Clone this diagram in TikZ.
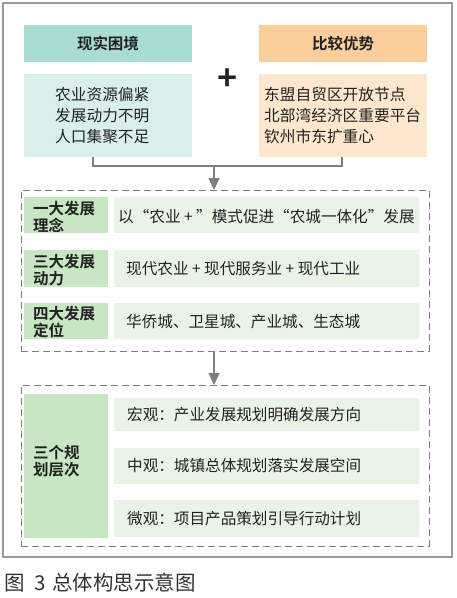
\documentclass[tikz,border=0pt]{standalone}
\usepackage{fontspec}
\setmainfont{Noto Sans CJK SC}[BoldFont={Noto Sans CJK SC Bold}]
\usetikzlibrary{arrows.meta}
\definecolor{frame}{HTML}{9A9A9A}
\definecolor{linegray}{HTML}{7F7F7F}
\definecolor{tealH}{HTML}{A9DCD3}
\definecolor{tealB}{HTML}{D9EFEC}
\definecolor{orgH}{HTML}{FBCF9C}
\definecolor{orgB}{HTML}{FDE7CD}
\definecolor{grnL}{HTML}{C8E6C4}
\definecolor{grnR}{HTML}{EAF4E6}
\definecolor{txt}{HTML}{222222}
\tikzset{
  box/.style={draw=none, inner sep=0pt, outer sep=0pt, rectangle},
  headtxt/.style={font=\fontsize{15.5}{18}\selectfont\bfseries, text=txt, inner sep=0pt},
  bodytxt/.style={font=\fontsize{15.7}{21}\selectfont, text=txt, inner sep=0pt, align=left},
  labtxt/.style={font=\fontsize{15.5}{17}\selectfont\bfseries, text=txt, inner sep=0pt, align=left},
  rowtxt/.style={font=\fontsize{15.6}{18}\selectfont, text=txt, inner sep=0pt, anchor=west},
  dbox/.style={draw=linegray, line width=1pt, dash pattern=on 7pt off 4pt},
  conn/.style={draw=linegray, line width=1.3pt},
  arr/.style={conn, -{Triangle[width=11pt,length=12pt]}}
}
\begin{document}
\begin{tikzpicture}[x=1pt,y=-1pt]
\useasboundingbox (0,0) rectangle (456,598);
% outer frame
\draw[draw=frame, line width=1.6pt] (3,3) rectangle (452,557);
% top boxes
\node[box, fill=tealH, minimum width=168pt, minimum height=37pt] (h1) at (108,43.5) {};
\node[headtxt] (h1t) at (h1.center) {现实困境};
\node[box, fill=tealB, minimum width=168pt, minimum height=83pt] (b1) at (108,115.5) {};
\node[bodytxt, anchor=west] (b1t) at (55,116) {农业资源偏紧\\发展动力不明\\人口集聚不足};
\node[box, fill=orgH, minimum width=168pt, minimum height=37pt] (h2) at (343,43.5) {};
\node[headtxt] (h2t) at (h2.center) {比较优势};
\node[box, fill=orgB, minimum width=168pt, minimum height=83pt] (b2) at (343,115.5) {};
\node[bodytxt, anchor=west] (b2t) at (264,116) {东盟自贸区开放节点\\北部湾经济区重要平台\\钦州市东扩重心};
% plus
\node[font=\fontsize{34}{34}\selectfont\bfseries, text=txt, inner sep=0pt] (plus) at (228,80) {+};
% bracket connector
\coordinate (c1) at (93,157);
\coordinate (c2) at (342,157);
\coordinate (m1) at (214,166);
\coordinate (a1) at (214,190);
\draw[conn] (c1) -- (93,166) -- (342,166) -- (c2);
\draw[arr] (m1) -- (a1);
% dashed box 1
\node[box, dbox, minimum width=408pt, minimum height=161pt] (d1) at (225,270.5) {};
% rows
\node[box, fill=grnL, minimum width=84pt, minimum height=36pt] (l1) at (66,215) {};
\node[labtxt, anchor=west] (l1t) at (33,216.5) {一大发展\\理念};
\node[box, fill=grnR, minimum width=305pt, minimum height=36pt] (r1) at (266.5,215) {};
\node[rowtxt] (r1t) at (118,216.5) {以“农业 + ”模式促进“农城一体化”发展};
\node[box, fill=grnL, minimum width=84pt, minimum height=37pt] (l2) at (66,268.5) {};
\node[labtxt, anchor=west] (l2t) at (33,270) {三大发展\\动力};
\node[box, fill=grnR, minimum width=305pt, minimum height=37pt] (r2) at (266.5,268.5) {};
\node[rowtxt] (r2t) at (126,269) {现代农业 + 现代服务业 + 现代工业};
\node[box, fill=grnL, minimum width=84pt, minimum height=36pt] (l3) at (66,321) {};
\node[labtxt, anchor=west] (l3t) at (33,322.5) {四大发展\\定位};
\node[box, fill=grnR, minimum width=305pt, minimum height=36pt] (r3) at (266.5,321) {};
\node[rowtxt] (r3t) at (126,322) {华侨城、卫星城、产业城、生态城};
% arrow 2
\coordinate (a2s) at (214,351);
\coordinate (a2e) at (214,385);
\draw[arr] (a2s) -- (a2e);
% dashed box 2
\node[box, dbox, minimum width=408pt, minimum height=161pt] (d2) at (225,465.5) {};
\node[box, fill=grnL, minimum width=84pt, minimum height=144pt] (l4) at (66,466) {};
\node[labtxt, anchor=west] (l4t) at (33,461) {三个规\\划层次};
\node[box, fill=grnR, minimum width=305pt, minimum height=33pt] (r4) at (266.5,414.5) {};
\node[rowtxt] (r4t) at (127,415) {宏观：产业发展规划明确发展方向};
\node[box, fill=grnR, minimum width=305pt, minimum height=36pt] (r5) at (266.5,466) {};
\node[rowtxt] (r5t) at (127,466) {中观：城镇总体规划落实发展空间};
\node[box, fill=grnR, minimum width=305pt, minimum height=37pt] (r6) at (266.5,518.5) {};
\node[rowtxt] (r6t) at (127,518.5) {微观：项目产品策划引导行动计划};
% caption
\node[font=\fontsize{20.5}{22}\selectfont, text=black!80, inner sep=0pt, anchor=west] (cap) at (4,583) {图\hspace{10pt}3\hspace{6pt}总体构思示意图};
\end{tikzpicture}
\end{document}
